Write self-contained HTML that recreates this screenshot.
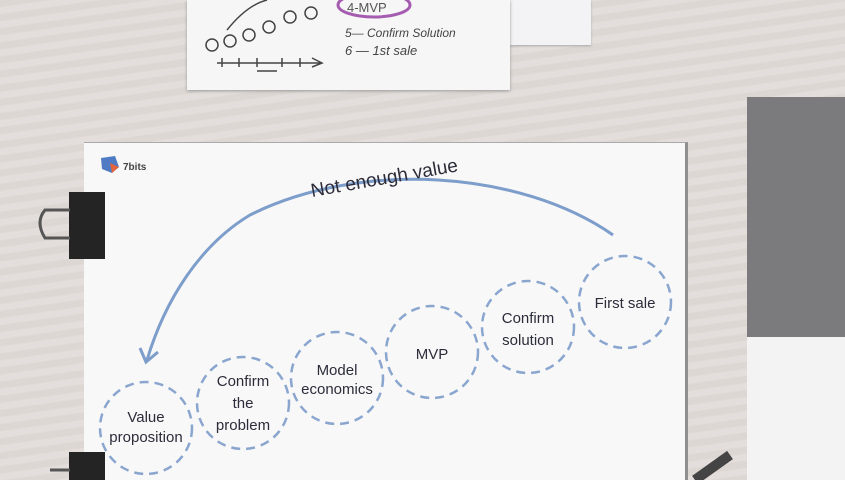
<!DOCTYPE html>
<html><head><meta charset="utf-8"><style>
body{margin:0;width:845px;height:480px;overflow:hidden;background:#e0dad6;position:relative;font-family:"Liberation Sans",sans-serif}
.a{position:absolute}
</style></head><body>
<div class="a" style="left:0;top:0;width:845px;height:480px;background:repeating-linear-gradient(172deg,#ddd7d3 0 7px,#e3dedb 7px 14px)"></div>
<div class="a" style="left:505px;top:0;width:86px;height:45px;background:#f3f3f5;box-shadow:0 1px 2px #aaa"></div>
<div class="a" style="left:187px;top:0;width:323px;height:90px;background:#f6f6f6;box-shadow:0 1px 3px #999"></div>
<svg class="a" style="left:187px;top:0" width="323" height="90">
<g fill="none" stroke="#444" stroke-width="1.5">
<circle cx="25" cy="45" r="6"/><circle cx="43" cy="41" r="6"/><circle cx="62" cy="35" r="6"/><circle cx="82" cy="27" r="6"/><circle cx="103" cy="17" r="6"/><circle cx="124" cy="13" r="6"/>
<path d="M30,63 H135 M125,58 L135,63 L125,67 M35,58v9 M52,58v9 M70,58v9 M95,58v9 M113,58v9 M70,71 h20"/>
<path d="M40,30 Q60,5 80,0"/>
</g>
<ellipse cx="187" cy="5" rx="36" ry="12" fill="none" stroke="#a45bb0" stroke-width="3"/>
<text x="160" y="12" font-size="13" fill="#555" font-family="Liberation Sans">4-MVP</text>
<text x="158" y="37" font-size="12" fill="#444" font-style="italic">5— Confirm Solution</text>
<text x="158" y="55" font-size="13" fill="#444" font-style="italic">6 — 1st sale</text>
</svg>
<div class="a" style="left:747px;top:97px;width:98px;height:240px;background:#7b7b7d"></div>
<div class="a" style="left:747px;top:337px;width:98px;height:143px;background:#f3f3f3"></div>
<div class="a" style="left:84px;top:142px;width:604px;height:338px;background:#f8f8f8;border-right:3px solid #8f8f8f;border-top:1px solid #aaa;box-sizing:border-box"></div>
<svg class="a" style="left:0;top:0" width="845" height="480">
<g transform="translate(110,165)"><path d="M-9,-7 L5,-9 L9,2 L2,8 L-8,4Z" fill="#4f7bc4"/><path d="M0,-2 L9,2 L2,8Z" fill="#e2653d"/></g>
<text x="123" y="170" font-size="10" font-weight="bold" fill="#444">7bits</text>
<g fill="#242424"><rect x="69" y="192" width="36" height="67"/><rect x="69" y="452" width="36" height="28"/></g>
<path d="M70,210 L45,210 Q35,222 45,238 L70,238" fill="none" stroke="#555" stroke-width="3"/>
<path d="M70,470 L50,470" stroke="#555" stroke-width="3"/>
<path d="M695,480 L730,455" stroke="#444" stroke-width="10"/>
<path d="M613,235 C520,170 360,160 250,215 C200,245 165,300 147,360" fill="none" stroke="#7d9dcb" stroke-width="3"/>
<path d="M140,348 L146,362 L158,352" fill="none" stroke="#7d9dcb" stroke-width="3"/>
<text x="0" y="0" font-size="19" fill="#2c2c3a" font-family="Liberation Sans" transform="translate(312,197) rotate(-10)">Not enough value</text>
<g fill="none" stroke="#8aa6cf" stroke-width="2.5" stroke-dasharray="9 6">
<circle cx="146" cy="428" r="46"/><circle cx="243" cy="403" r="46"/><circle cx="337" cy="378" r="46"/><circle cx="432" cy="352" r="46"/><circle cx="528" cy="327" r="46"/><circle cx="625" cy="302" r="46"/>
</g>
<g font-size="15" fill="#2c2c3a" text-anchor="middle">
<text x="146" y="422">Value</text><text x="146" y="442">proposition</text>
<text x="243" y="386">Confirm</text><text x="243" y="408">the</text><text x="243" y="430">problem</text>
<text x="337" y="375">Model</text><text x="337" y="394">economics</text>
<text x="432" y="359">MVP</text>
<text x="528" y="323">Confirm</text><text x="528" y="345">solution</text>
<text x="625" y="308">First sale</text>
</g>
</svg>
</body></html>
